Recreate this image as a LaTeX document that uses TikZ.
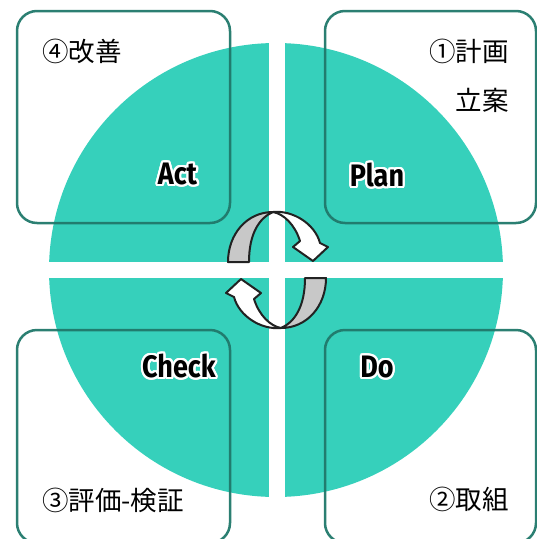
\documentclass[tikz,border=0pt]{standalone}
\usepackage{fontspec}
\usepackage{graphicx}
\newfontfamily\cjk{Noto Sans CJK JP}
\newfontfamily\lblfont{Fira Sans}[BoldFont={Fira Sans Bold}]
\definecolor{teal1}{RGB}{54,208,187}
\definecolor{boxline}{RGB}{32,120,106}
\definecolor{arrgray}{RGB}{200,200,200}
\definecolor{arrline}{RGB}{34,34,34}
\tikzset{
  phasebox/.style={draw=boxline, line width=2.5pt, rounded corners=20pt, opacity=0.95},
  jtext/.style={font=\cjk\fontsize{26.5}{30}\selectfont, text=black, inner sep=0pt},
  lbl/.style={font=\lblfont\bfseries\fontsize{27}{30}\selectfont, text=black, inner sep=0pt},
  arrback/.style={fill=arrgray, draw=arrline, line width=2pt, line join=round},
  arrfront/.style={fill=white, draw=arrline, line width=2pt, line join=round},
}
\newcommand\outlabel[3]{%
  \foreach \a in {0,22.5,...,337.5}{
    \node[lbl, text=white, xshift={2.2pt*cos(\a)}, yshift={2.2pt*sin(\a)}] at (#2) {\scalebox{1}[1.15]{#3}};
  }
  \node[lbl] (#1) at (#2) {\scalebox{1}[1.15]{#3}};
}
\begin{document}
\begin{tikzpicture}[x=1pt, y=-1pt]
  \useasboundingbox (0,0) rectangle (537,539);
  \clip (0,0) rectangle (537,539);
  \coordinate (C) at (277,270);
  % circle
  \fill[teal1] (276,270) circle[radius=227];
  % white cross
  \fill[white] (269,0) rectangle (285,539);
  \fill[white] (0,262) rectangle (537,278);
  % boxes
  \draw[phasebox] (17,11) rectangle (230,223);
  \draw[phasebox] (325,11) rectangle (536,223);
  \draw[phasebox] (17,330) rectangle (230,543);
  \draw[phasebox] (325,330) rectangle (536,543);
  % cycle arrows
  \foreach \r in {0,180}{
    \begin{scope}[shift={(C)}, rotate=\r]
      \draw[arrback] (-49,-8) .. controls (-49,-36) and (-30,-58) .. (-4,-58)
        .. controls (-18,-52) and (-28,-36) .. (-28,-8) -- cycle;
      \draw[arrfront] (-4,-58) .. controls (16,-60) and (38,-46) .. (43,-27)
        -- (51,-23) -- (36,-9) -- (16,-23) -- (23,-29)
        .. controls (18,-45) and (7,-56) .. (-4,-58) -- cycle;
    \end{scope}
  }
  % English labels
  \outlabel{act}{177.5,174}{Act}
  \outlabel{plan}{377,175}{Plan}
  \outlabel{check}{179,366}{Check}
  \outlabel{do}{377,367}{Do}
  % Japanese texts
  \node[jtext, anchor=west] (kaizen) at (42,51) {④改善};
  \node[jtext, anchor=east] (keikaku) at (509,51) {①計画};
  \node[jtext, anchor=east] (rituan) at (509,100) {立案};
  \node[jtext, anchor=west] (hyouka) at (42,500) {③評価-検証};
  \node[jtext, anchor=east] (torikumi) at (509,499) {②取組};
\end{tikzpicture}
\end{document}
